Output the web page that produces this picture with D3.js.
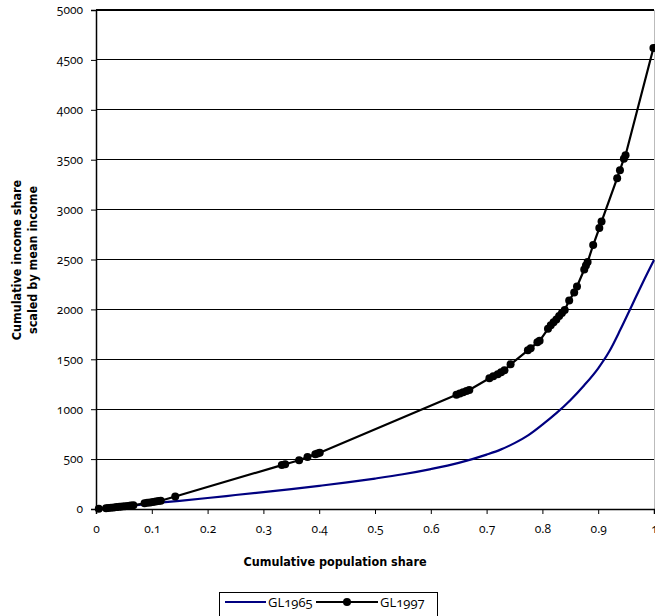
<!DOCTYPE html>
<html>
<head>
<meta charset="utf-8">
<script src="https://cdn.jsdelivr.net/npm/d3@7/dist/d3.min.js"></script>
<style>
  html, body { margin: 0; padding: 0; background: #fff; }
  svg { display: block; }
  .tick-label { font-family: "Open Sans", Lato, sans-serif; font-size: 12px; font-variant-numeric: oldstyle-nums; font-feature-settings: "onum" 1; fill: #000; }
  .title { font-family: "Liberation Sans Narrow", "DejaVu Sans Condensed", "Liberation Sans", sans-serif; font-weight: bold; font-size: 12.5px; fill: #000; }
  .legend-text { font-family: "Open Sans", Lato, sans-serif; font-size: 13px; font-variant-numeric: oldstyle-nums; font-feature-settings: "onum" 1; fill: #000; }
</style>
</head>
<body>
<svg id="chart" width="655" height="616"></svg>
<script>
// ---- data ----
const seriesNames = ["GL1965", "GL1997"];
const xTicks = [0, 0.1, 0.2, 0.3, 0.4, 0.5, 0.6, 0.7, 0.8, 0.9, 1];
const yTicks = [0, 500, 1000, 1500, 2000, 2500, 3000, 3500, 4000, 4500, 5000];

const gl1965X = [0, 0.05, 0.1, 0.15, 0.2, 0.25, 0.3, 0.35, 0.4, 0.45, 0.5, 0.55, 0.6, 0.65, 0.7, 0.725, 0.75, 0.775, 0.8, 0.825, 0.85, 0.875, 0.9, 0.92, 0.94, 0.96, 0.98, 1.0];
const gl1965Y = [0, 25, 55, 82, 110, 140, 170, 200, 232, 266, 305, 348, 400, 462, 545, 595, 660, 740, 845, 960, 1090, 1240, 1410, 1580, 1800, 2035, 2270, 2495];

const gl1997X = [0.005, 0.018, 0.022, 0.027, 0.032, 0.037, 0.042, 0.047, 0.052, 0.057, 0.062, 0.067,
  0.087, 0.092, 0.097, 0.102, 0.107, 0.112, 0.116, 0.142,
  0.333, 0.339, 0.364, 0.379, 0.393, 0.397, 0.401,
  0.646, 0.652, 0.658, 0.664, 0.669,
  0.705, 0.712, 0.72, 0.726, 0.732, 0.743,
  0.774, 0.779, 0.791, 0.795,
  0.81, 0.815, 0.82, 0.825, 0.83, 0.835, 0.84, 0.848, 0.857, 0.862,
  0.875, 0.878, 0.881, 0.891, 0.902, 0.906,
  0.934, 0.939, 0.946, 0.949, 0.999];
const gl1997Y = [2, 8, 10, 13, 16, 19, 22, 25, 28, 31, 34, 37,
  58, 62, 66, 70, 74, 79, 83, 125,
  440, 448, 488, 520, 548, 556, 563,
  1145, 1158, 1170, 1182, 1192,
  1310, 1330, 1350, 1370, 1390, 1450,
  1590, 1610, 1670, 1685,
  1805, 1840, 1870, 1900, 1935, 1965, 1995, 2090, 2170, 2230,
  2400, 2440, 2475, 2645, 2815, 2880,
  3315, 3395, 3510, 3545, 4620];

const xTitle = "Cumulative population share";
const yTitle = ["Cumulative income share", "scaled by mean income"];

// ---- layout ----
const svg = d3.select("#chart");
const plotL = 96, plotR = 654, plotT = 10, plotB = 509;
const x = d3.scaleLinear().domain([0, 1]).range([plotL, plotR]);
const y = d3.scaleLinear().domain([0, 5000]).range([plotB, plotT]);

// gridlines
svg.append("g").selectAll("line").data(yTicks.filter(d => d > 0)).join("line")
  .attr("x1", plotL).attr("x2", plotR)
  .attr("y1", d => y(d)).attr("y2", d => y(d))
  .attr("stroke", "#000").attr("stroke-width", 1).attr("shape-rendering", "crispEdges");
// thicker top border
svg.append("line").attr("x1", plotL).attr("x2", plotR).attr("y1", y(5000)).attr("y2", y(5000))
  .attr("stroke", "#000").attr("stroke-width", 2);
// right border
svg.append("line").attr("x1", plotR).attr("x2", plotR).attr("y1", plotT).attr("y2", plotB)
  .attr("stroke", "#bbb").attr("stroke-width", 1).attr("shape-rendering", "crispEdges");

// y axis
const yAxis = d3.axisLeft(y).tickValues(yTicks).tickSize(5).tickPadding(8).tickFormat(d3.format("d"));
const gy = svg.append("g").attr("transform", `translate(${plotL},0)`).call(yAxis);
gy.select(".domain").attr("stroke", "#000").attr("stroke-width", 1.5);
gy.selectAll(".tick line").attr("stroke", "#000");
gy.selectAll(".tick text").attr("class", "tick-label");
gy.attr("font-family", null).attr("font-size", null);

// x axis
const xAxis = d3.axisBottom(x).tickValues(xTicks).tickSize(5).tickPadding(10).tickFormat(d => d === 0 ? "0" : d === 1 ? "1" : d3.format(".1f")(d));
const gx = svg.append("g").attr("transform", `translate(0,${plotB})`).call(xAxis);
gx.select(".domain").attr("stroke", "#000").attr("stroke-width", 1.5);
gx.selectAll(".tick line").attr("stroke", "#000");
gx.selectAll(".tick text").attr("class", "tick-label");
gx.attr("font-family", null).attr("font-size", null);

// lines
const d1965 = gl1965X.map((v, i) => [v, gl1965Y[i]]);
const d1997 = gl1997X.map((v, i) => [v, gl1997Y[i]]);

svg.append("path").datum(d1965)
  .attr("d", d3.line().x(d => x(d[0])).y(d => y(d[1])).curve(d3.curveMonotoneX))
  .attr("fill", "none").attr("stroke", "#000080").attr("stroke-width", 2.2);

svg.append("path").datum(d1997)
  .attr("d", d3.line().x(d => x(d[0])).y(d => y(d[1])))
  .attr("fill", "none").attr("stroke", "#000").attr("stroke-width", 2.2);

svg.append("g").selectAll("circle").data(d1997).join("circle")
  .attr("cx", d => x(d[0])).attr("cy", d => y(d[1])).attr("r", 4).attr("fill", "#000");

// titles
svg.append("text").attr("class", "title").attr("x", 335).attr("y", 566).attr("text-anchor", "middle").text(xTitle);
yTitle.forEach((t, i) => {
  svg.append("text").attr("class", "title")
    .attr("transform", `translate(${21 + i * 16},260) rotate(-90)`)
    .attr("text-anchor", "middle").text(t);
});

// legend
const lg = svg.append("g");
lg.append("rect").attr("x", 219.5).attr("y", 592.5).attr("width", 218).attr("height", 30)
  .attr("fill", "#fff").attr("stroke", "#000").attr("stroke-width", 1);
const ly = 602;
lg.append("line").attr("x1", 225).attr("x2", 266).attr("y1", ly).attr("y2", ly)
  .attr("stroke", "#000080").attr("stroke-width", 2.2);
lg.append("text").attr("class", "legend-text").attr("x", 268).attr("y", ly).attr("dy", "0.35em").text(seriesNames[0]);
lg.append("line").attr("x1", 316).attr("x2", 378).attr("y1", ly).attr("y2", ly)
  .attr("stroke", "#000").attr("stroke-width", 2.2);
lg.append("circle").attr("cx", 347).attr("cy", ly).attr("r", 4).attr("fill", "#000");
lg.append("text").attr("class", "legend-text").attr("x", 380).attr("y", ly).attr("dy", "0.35em").text(seriesNames[1]);
</script>
</body>
</html>
